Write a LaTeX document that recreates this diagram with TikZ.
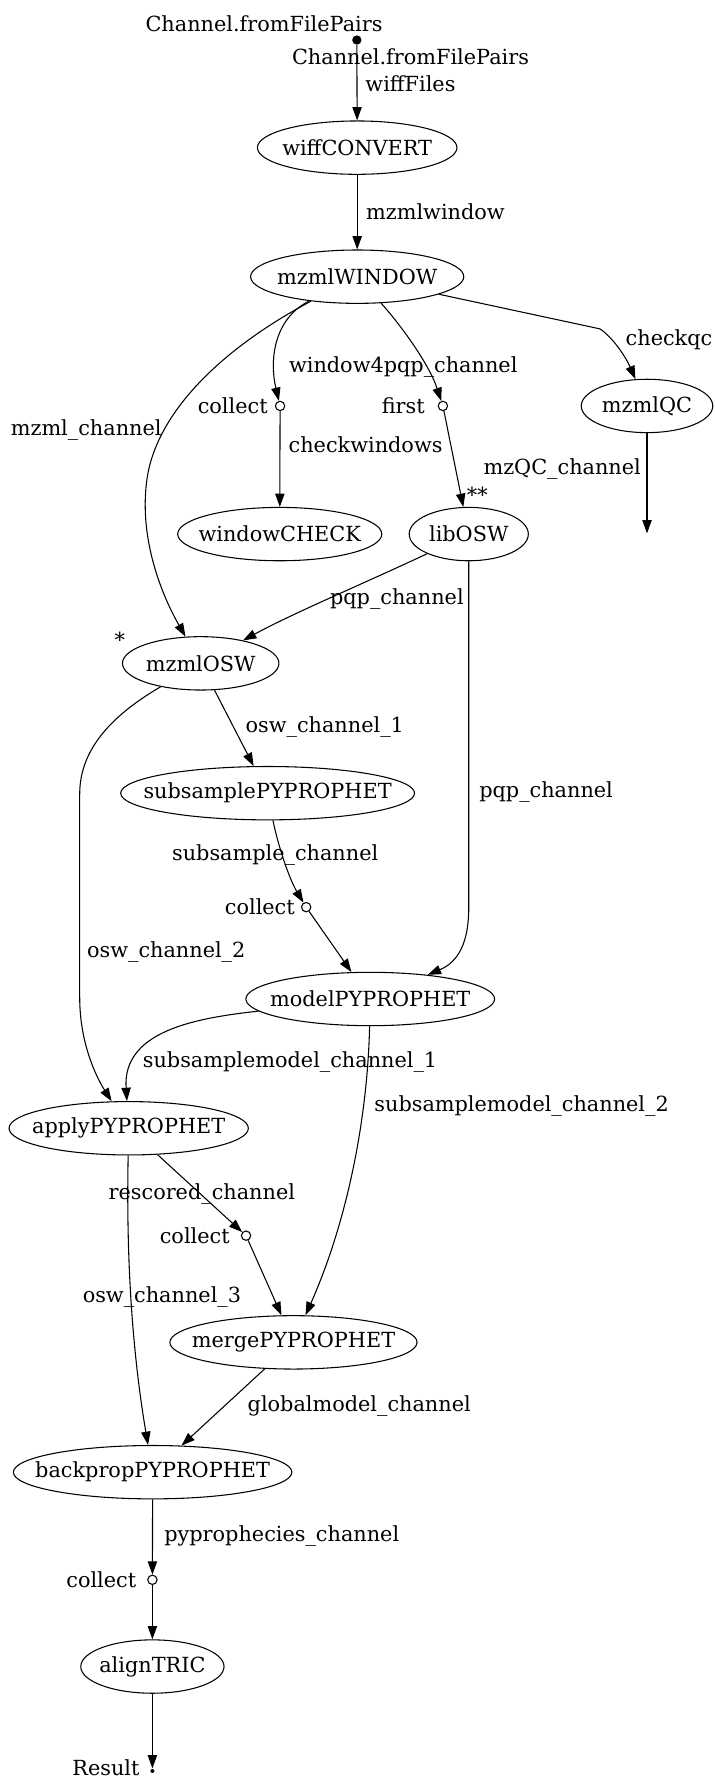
\documentclass[tikz,border=0pt]{standalone}
\usepackage{fontspec}
\setmainfont{DejaVu Serif}
\usetikzlibrary{shapes.geometric,arrows.meta}

\begin{document}
\begin{tikzpicture}[x=0.85pt,y=-0.85pt,line width=0.8pt,
    >={Triangle[length=10pt,width=7pt]},
    every node/.style={font=\fontsize{15.6}{20}\selectfont},
    proc/.style={ellipse,draw,inner sep=0pt,minimum height=40pt,minimum width=#1,
      execute at begin node={\hbox to 0pt\bgroup\hss},execute at end node={\hss\egroup}},
    op/.style={circle,draw,inner sep=0pt,minimum size=7pt},
    terminal/.style={circle,fill,inner sep=0pt,minimum size=#1},
    lbl/.style={inner sep=0pt},
    flow/.style={->}]
\useasboundingbox (0,0) rectangle (630,1568);

\node[terminal=7pt] (start1) at (314.7,35.3) {};
\node[proc=149.6pt] (wiffconvert) at (315,130.2) {wiffCONVERT};
\node[proc=159.8pt] (mzmlwindow) at (315,244) {mzmlWINDOW};
\node[op] (collect1) at (247,358) {};
\node[op] (first1) at (390.6,358) {};
\node[proc=98.6pt] (mzmlqc) at (570.6,358) {mzmlQC};
\node[proc=153pt] (windowcheck) at (246.7,471) {windowCHECK};
\node[proc=89.3pt] (libosw) at (413.4,471) {libOSW};
\coordinate (qcend) at (570.6,470.4);
\node[proc=117.3pt] (mzmlosw) at (177,585) {mzmlOSW};
\node[proc=220.3pt] (subsample) at (236,699.5) {subsamplePYPROPHET};
\node[op] (collect2) at (270,800) {};
\node[proc=186.5pt] (model) at (326.5,881) {modelPYPROPHET};
\node[proc=179.4pt] (apply) at (113.5,995) {applyPYPROPHET};
\node[op] (collect3) at (217,1089.7) {};
\node[proc=185.3pt] (merge) at (258.8,1183.8) {mergePYPROPHET};
\node[proc=208.8pt] (backprop) at (134.6,1298.3) {backpropPYPROPHET};
\node[op] (collect4) at (134.4,1393.2) {};
\node[proc=107.4pt] (aligntric) at (134.4,1469.7) {alignTRIC};
\node[terminal=3pt] (result) at (134.4,1561.8) {};

\coordinate (qcbend) at (529,290);
\coordinate (pqpbend) at (413.4,800);
\coordinate (oswtop) at (70.3,700);
\coordinate (oswbot) at (70.3,880);

\node[lbl] (lstart) at (232.8,20.6) {Channel.fromFilePairs};
\node[lbl,align=center] (lwiff) at (362,61.8) {Channel.fromFilePairs\\wiffFiles};
\node[lbl] (lmzmlwindow) at (384,186.5) {mzmlwindow};
\node[lbl] (lcheckqc) at (590,300) {checkqc};
\node[lbl] (lwindow4pqp) at (355.6,323.5) {window4pqp\_channel};
\node[lbl,anchor=east] (lcollect1) at (236.5,358) {collect};
\node[lbl,anchor=east] (lfirst) at (375,358) {first};
\node[lbl] (lcheckwindows) at (322.4,392.6) {checkwindows};
\node[lbl] (lmzqc) at (495.8,414) {mzQC\_channel};
\node[lbl] (lmzml) at (76,379.5) {mzml\_channel};
\node[lbl] (lstar2) at (421,436) {**};
\node[lbl] (lpqp1) at (350,528) {pqp\_channel};
\node[lbl] (lstar1) at (105.7,563.8) {*};
\node[lbl] (losw1) at (286.4,641.4) {osw\_channel\_1};
\node[lbl] (lpqp2) at (481.6,698.5) {pqp\_channel};
\node[lbl] (lsubsample) at (242.7,754.4) {subsample\_channel};
\node[lbl,anchor=east] (lcollect2) at (260.4,800) {collect};
\node[lbl] (losw2) at (146.6,839.7) {osw\_channel\_2};
\node[lbl] (lsubmodel1) at (255.8,936.8) {subsamplemodel\_channel\_1};
\node[lbl] (lsubmodel2) at (460,975) {subsamplemodel\_channel\_2};
\node[lbl] (lrescored) at (178,1053) {rescored\_channel};
\node[lbl,anchor=east] (lcollect3) at (203,1089.7) {collect};
\node[lbl] (losw3) at (142.8,1144) {osw\_channel\_3};
\node[lbl] (lglobal) at (316.8,1239.7) {globalmodel\_channel};
\node[lbl] (lpyproph) at (248.5,1354.4) {pyprophecies\_channel};
\node[lbl,anchor=east] (lcollect4) at (120.6,1393) {collect};
\node[lbl,anchor=east] (lresult) at (123.5,1558.5) {Result};

\draw[flow] (start1) -- (wiffconvert);
\draw[flow] (wiffconvert) -- (mzmlwindow);
\draw[flow] (mzmlwindow) .. controls (240,282) and (238,320) .. (collect1);
\draw[flow] (collect1) -- (windowcheck);
\draw[flow] (mzmlwindow) .. controls (352,285) and (378,320) .. (first1);
\draw[flow] (first1) -- (libosw);
\draw[flow] (mzmlwindow) -- (qcbend) .. controls (540,297) and (552,315) .. (mzmlqc);
\draw[flow] (mzmlqc) -- (qcend);
\draw[flow] (mzmlwindow) .. controls (200,305) and (140,360) .. (130,420) .. controls (122,470) and (140,520) .. (mzmlosw);
\draw[flow] (libosw) .. controls (320,515) and (260,540) .. (mzmlosw);
\draw[flow] (libosw) -- (pqpbend) .. controls (413.4,830) and (405,848) .. (model);
\draw[flow] (mzmlosw) -- (subsample);
\draw[flow] (subsample) .. controls (245,745) and (255,775) .. (collect2);
\draw[flow] (collect2) -- (model);
\draw[flow] (mzmlosw) .. controls (100,630) and (70.3,660) .. (oswtop) -- (oswbot) .. controls (70.3,920) and (85,950) .. (apply);
\draw[flow] (model) .. controls (170,898) and (108,910) .. (apply);
\draw[flow] (model) .. controls (324,990) and (305,1080) .. (merge);
\draw[flow] (apply) -- (collect3);
\draw[flow] (collect3) -- (merge);
\draw[flow] (apply) .. controls (111,1120) and (118,1200) .. (backprop);
\draw[flow] (merge) -- (backprop);
\draw[flow] (backprop) -- (collect4);
\draw[flow] (collect4) -- (aligntric);
\draw[flow] (aligntric) -- (result);
\end{tikzpicture}
\end{document}
